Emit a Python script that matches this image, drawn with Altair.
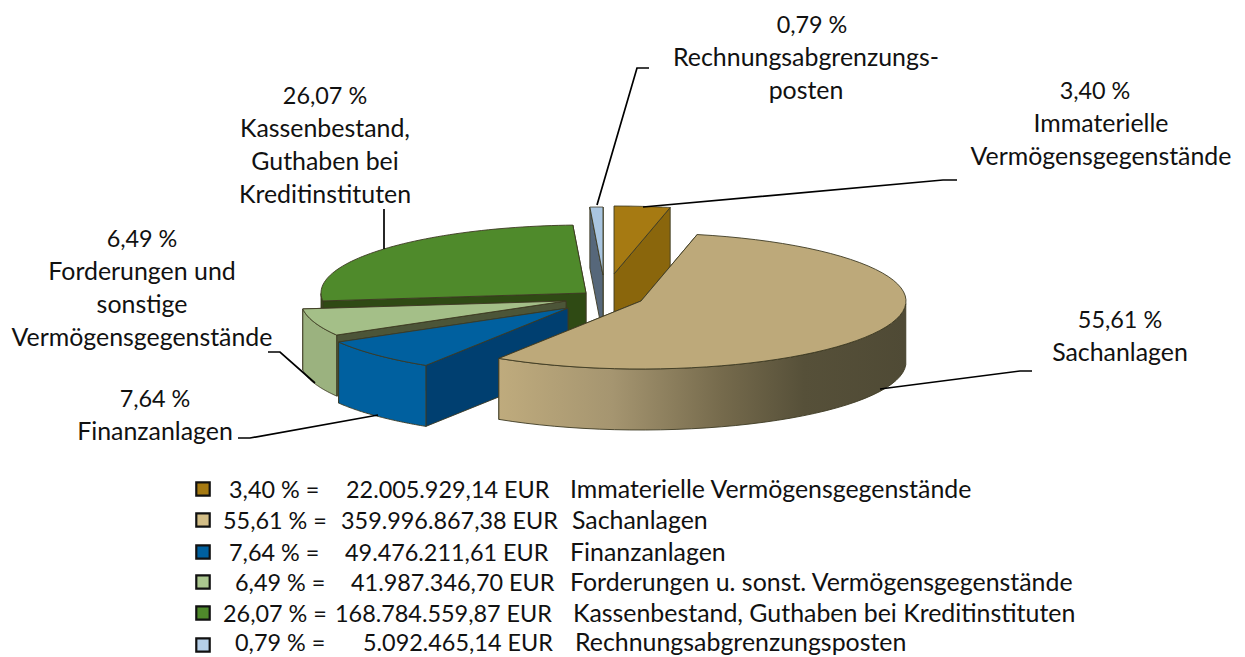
import math
import altair as alt
import pandas as pd

# ---- data ----
names = ["Immaterielle Vermögensgegenstände", "Sachanlagen", "Finanzanlagen",
         "Forderungen u. sonst. Vermögensgegenstände",
         "Kassenbestand, Guthaben bei Kreditinstituten", "Rechnungsabgrenzungsposten"]
shares = [3.40, 55.61, 7.64, 6.49, 26.07, 0.79]
percent_text = ["3,40 % =", "55,61 % =", "7,64 % =", "6,49 % =", "26,07 % =", "0,79 % ="]
amount_text = ["22.005.929,14 EUR", "359.996.867,38 EUR", "49.476.211,61 EUR",
               "41.987.346,70 EUR", "168.784.559,87 EUR", "5.092.465,14 EUR"]
label_lines = [
    ["3,40 %", "Immaterielle", "Vermögensgegenstände"],
    ["55,61 %", "Sachanlagen"],
    ["7,64 %", "Finanzanlagen"],
    ["6,49 %", "Forderungen und", "sonstige", "Vermögensgegenstände"],
    ["26,07 %", "Kassenbestand,", "Guthaben bei", "Kreditinstituten"],
    ["0,79 %", "Rechnungsabgrenzungs-", "posten"],
]

# ---- layout (canvas pixels of the reference) ----
FONT = "Lato"
FS = 24.9      # letters
FS_NUM = 23.4  # Lato's figures run wider than the original's
RX, RY, DEPTH = 265, 68, 61
apex = [(614, 274), (641, 301), (568, 308), (566, 301), (586, 293), (603, 275)]
top_col = ["#a67a12", "#bda97a", "#00609f", "#a4bf88", "#4f8a2b", "#a9c5e0"]
rim_col = ["#8a660c", None, "#00609f", "#9bb27f", "#2f4a14", "#a9c5e0"]
in_col = ["#8a660c", "#8f8260", "#003f70", "#4c5538", "#2f4a14", "#56677a"]
legend_col = ["#a67a12", "#d2bd86", "#00609f", "#abc78f", "#4f8a2b", "#b5cfe8"]
pct_cx = [1095, 1120, 155, 142, 325, 812]
name_cx = [1101, 1120, 155, 142, 325, 806]
label_y = [92, 321, 400, 240, 97, 26]
LINE_H = 33
leaders = [
    [(643, 207), (943, 180), (957, 180)],
    [(880, 389), (1020, 371), (1032, 371)],
    [(378, 415), (250, 438), (238, 438)],
    [(315, 383), (280, 352), (268, 352)],
    [(384, 209), (384, 249)],
    [(597, 205), (637, 68), (649, 68)],
]
legend_y = [489, 520, 552, 582, 613, 645]
legend_text_y = [491, 522, 554, 584, 615, 644]
legend_px = [229, 223, 229, 235, 223, 235]
legend_ax = [346, 341, 345, 351, 335, 363]
legend_nx = [570, 572, 570, 570, 573, 575]

X = alt.X("x:Q", scale=alt.Scale(domain=[8, 1237], range=[0, 1229]), axis=None)
Y = alt.Y("y:Q", scale=alt.Scale(domain=[8, 657], range=[0, 649]), axis=None)
SIZE = alt.Size("s:Q", scale=None, legend=None)


def pt(i, t, dy=0):
    ax, ay = apex[i]
    r = math.radians(t)
    return (ax + RX * math.sin(r), ay - RY * math.cos(r) + dy)


def poly(points, fill, stroke="#3d3a22", sw=0.9):
    df = pd.DataFrame({"x": [p[0] for p in points], "y": [p[1] for p in points],
                       "o": range(len(points))})
    return alt.Chart(df).mark_line(fill=fill, stroke=stroke, strokeWidth=sw,
                                   interpolate="linear-closed").encode(
        x=X, y=Y, order="o:Q")


# angles follow the shares
starts, acc = [], 0.0
for s in shares:
    starts.append(acc)
    acc += s / sum(shares) * 360
ends = starts[1:] + [360.0]

layers = []
for i in [5, 0, 4, 3, 2, 1]:
    a, b = starts[i], ends[i]
    ts = [a + (b - a) * k / 60 for k in range(61)]
    # inner radial walls: the far one first, the near one over it
    layers.append(poly([pt(i, b), (apex[i]), (apex[i][0], apex[i][1] + DEPTH), pt(i, b, DEPTH)], in_col[i]))
    if i != 0:
        layers.append(poly([pt(i, a), (apex[i]), (apex[i][0], apex[i][1] + DEPTH), pt(i, a, DEPTH)], in_col[i]))
    # outer rim (only the part facing the viewer)
    vis = [t for t in ts if 90 <= t <= 270]
    if vis and i != 0 and i != 5:
        pts = [pt(i, t) for t in vis] + [pt(i, t, DEPTH) for t in reversed(vis)]
        fill = rim_col[i]
        if fill is None:
            fill = alt.Gradient(gradient="linear", x1=0, x2=1, y1=0, y2=0, stops=[
                alt.GradientStop(offset=0, color="#bfab7d"),
                alt.GradientStop(offset=0.28, color="#a59570"),
                alt.GradientStop(offset=0.55, color="#756a4c"),
                alt.GradientStop(offset=0.75, color="#565039"),
                alt.GradientStop(offset=1, color="#4f4a35"),
            ])
        layers.append(poly(pts, fill))
    # top
    layers.append(poly([apex[i]] + [pt(i, t) for t in ts], top_col[i]))

# leader lines
lead_rows = []
for j, pts in enumerate(leaders):
    for k, p in enumerate(pts):
        lead_rows.append({"x": p[0], "y": p[1], "g": j, "o": k})
layers.append(alt.Chart(pd.DataFrame(lead_rows)).mark_line(color="#000000", strokeWidth=1.7).encode(
    x=X, y=Y, detail="g:N", order="o:Q"))

# data labels
lab_rows = []
for i, lines in enumerate(label_lines):
    for k, t in enumerate(lines):
        lab_rows.append({"x": pct_cx[i] if k == 0 else name_cx[i],
                         "y": label_y[i] + k * LINE_H, "t": t,
                         "s": FS_NUM if k == 0 else FS})
layers.append(alt.Chart(pd.DataFrame(lab_rows)).mark_text(
    font=FONT, align="center", baseline="middle", color="#111111").encode(
    x=X, y=Y, text="t:N", size=SIZE))

# legend block
leg_rows = []
for i in range(6):
    yy = legend_text_y[i]
    leg_rows += [{"x": legend_px[i], "y": yy, "t": percent_text[i], "s": FS_NUM},
                 {"x": legend_ax[i], "y": yy, "t": amount_text[i], "s": FS_NUM},
                 {"x": legend_nx[i], "y": yy, "t": names[i], "s": FS}]
layers.append(alt.Chart(pd.DataFrame(leg_rows)).mark_text(
    font=FONT, align="left", baseline="middle", color="#111111").encode(
    x=X, y=Y, text="t:N", size=SIZE))
sq = pd.DataFrame({"x": [203] * 6, "y": legend_y, "c": legend_col})
layers.append(alt.Chart(sq).mark_square(size=180, filled=True, opacity=1, stroke="#111111", strokeWidth=2.2).encode(
    x=X, y=Y, fill=alt.Fill("c:N", scale=None)))

chart = alt.layer(*layers).properties(
    width=1229, height=649, padding=0,
    autosize=alt.AutoSizeParams(type="none"),
).configure_view(stroke=None)

chart.save("out.html", embed_options={"renderer": "svg", "actions": False})
